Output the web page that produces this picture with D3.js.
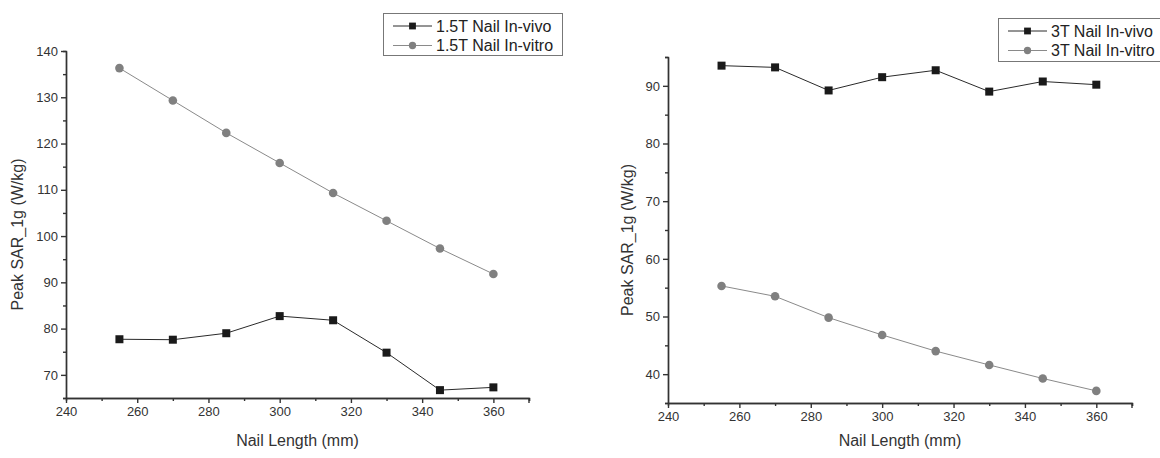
<!DOCTYPE html>
<html lang="en">
  <head>
    <meta charset="utf-8" />
    <title>Peak SAR vs Nail Length</title>
    <style>
      body {
        margin: 0;
        background: #fff;
        font-family: "Liberation Sans", Arial, sans-serif;
      }
      svg {
        display: block;
      }
      .axis path,
      .axis line {
        stroke: #333;
        stroke-width: 1.4px;
      }
      .axis text {
        fill: #333;
        font-size: 13px;
      }
      .title {
        fill: #333;
        font-size: 16px;
      }
      .legend text {
        fill: #222;
        font-size: 16px;
      }
    </style>
  </head>
  <body>
    <svg width="1160" height="458"></svg>

    <script src="https://d3js.org/d3.v7.min.js"></script>
    <script>
      // nail lengths (mm) shared by both panels
      const nailLength = [255, 270, 285, 300, 315, 330, 345, 360];

      // 1.5T
      const vivo15 = [77.7, 77.6, 79.0, 82.7, 81.8, 74.8, 66.7, 67.3];
      const vitro15 = [136.3, 129.3, 122.3, 115.8, 109.3, 103.3, 97.3, 91.8];

      // 3T
      const vivo3 = [93.5, 93.2, 89.2, 91.5, 92.7, 89.0, 90.75, 90.2];
      const vitro3 = [55.3, 53.5, 49.8, 46.8, 44.0, 41.6, 39.25, 37.1];

      const xTicks = [240, 260, 280, 300, 320, 340, 360];
      const yTicks15 = [70, 80, 90, 100, 110, 120, 130, 140];
      const yTicks3 = [40, 50, 60, 70, 80, 90];

      const seriesNames15 = ["1.5T Nail In-vivo", "1.5T Nail In-vitro"];
      const seriesNames3 = ["3T Nail In-vivo", "3T Nail In-vitro"];

      const svg = d3.select("svg");

      const panels = [
        {
          left: 66, right: 529, top: 51, bottom: 398,
          yDomain: [65, 140], yTicks: yTicks15,
          vivo: vivo15, vitro: vitro15, names: seriesNames15,
          yTitleX: 17, legend: { x: 383, y: 13, w: 179, h: 42 },
        },
        {
          left: 668, right: 1132, top: 57, bottom: 403,
          yDomain: [35, 95], yTicks: yTicks3,
          vivo: vivo3, vitro: vitro3, names: seriesNames3,
          yTitleX: 627, legend: { x: 998, y: 18, w: 175, h: 43 },
        },
      ];

      const styles = [
        { line: "#2a2a2a", fill: "#1a1a1a", shape: "square" },
        { line: "#8a8a8a", fill: "#808080", shape: "circle" },
      ];

      panels.forEach(drawPanel);

      function drawPanel(p) {
        const g = svg.append("g");

        const x = d3.scaleLinear().domain([240, 370]).range([p.left, p.right]);
        const y = d3.scaleLinear().domain(p.yDomain).range([p.bottom, p.top]);

        // minor ticks first, majors on top
        const xMinor = d3.range(250, 371, 20);
        const yMinor = p.yTicks.map((t) => t - 5).filter((t) => t >= p.yDomain[0]);
        if (p.yTicks[p.yTicks.length - 1] + 5 <= p.yDomain[1]) yMinor.push(p.yTicks[p.yTicks.length - 1] + 5);

        g.append("g")
          .attr("class", "axis")
          .attr("transform", `translate(0,${p.bottom})`)
          .call(d3.axisBottom(x).tickValues(xMinor).tickSize(3).tickFormat(""));
        g.append("g")
          .attr("class", "axis")
          .attr("transform", `translate(${p.left},0)`)
          .call(d3.axisLeft(y).tickValues(yMinor).tickSize(3).tickFormat(""));

        g.append("g")
          .attr("class", "axis")
          .attr("transform", `translate(0,${p.bottom})`)
          .call(d3.axisBottom(x).tickValues(xTicks).tickSize(5).tickSizeOuter(0).tickPadding(4));
        g.append("g")
          .attr("class", "axis")
          .attr("transform", `translate(${p.left},0)`)
          .call(d3.axisLeft(y).tickValues(p.yTicks).tickSize(5).tickSizeOuter(0).tickPadding(3));

        // end tick at x = 370
        g.append("line")
          .attr("x1", x(370)).attr("x2", x(370))
          .attr("y1", p.bottom).attr("y2", p.bottom + 5)
          .attr("stroke", "#333").attr("stroke-width", 1.4);

        // axis titles
        g.append("text")
          .attr("class", "title")
          .attr("x", (p.left + p.right) / 2)
          .attr("y", 446)
          .attr("text-anchor", "middle")
          .text("Nail Length (mm)");
        g.append("text")
          .attr("class", "title")
          .attr("transform", `translate(${p.yTitleX + 6},${(p.top + p.bottom) / 2 + 10}) rotate(-90)`)
          .attr("text-anchor", "middle")
          .text("Peak SAR_1g (W/kg)");

        const line = d3.line().x((d) => x(d[0])).y((d) => y(d[1]));

        [p.vivo, p.vitro].forEach((vals, i) => {
          const st = styles[i];
          const pts = nailLength.map((n, k) => [n, vals[k]]);
          g.append("path")
            .datum(pts)
            .attr("fill", "none")
            .attr("stroke", st.line)
            .attr("stroke-width", 1)
            .attr("d", line);
          drawMarkers(g, pts.map((d) => [x(d[0]), y(d[1])]), st);
        });

        // legend
        const L = p.legend;
        const lg = g.append("g").attr("class", "legend");
        lg.append("rect")
          .attr("x", L.x + 0.5).attr("y", L.y + 0.5)
          .attr("width", L.w).attr("height", L.h)
          .attr("fill", "#fff")
          .attr("stroke", "#777");
        p.names.forEach((name, i) => {
          const st = styles[i];
          const cy = L.y + 13 + i * 19.5;
          lg.append("line")
            .attr("x1", L.x + 10).attr("x2", L.x + 49)
            .attr("y1", cy).attr("y2", cy)
            .attr("stroke", st.line).attr("stroke-width", 1);
          drawMarkers(lg, [[L.x + 29.5, cy]], st, 0.85);
          lg.append("text")
            .attr("x", L.x + 53)
            .attr("y", cy)
            .attr("dy", "0.36em")
            .text(name);
        });
      }

      function drawMarkers(sel, pts, st, k = 1) {
        if (st.shape === "square") {
          const s = 8 * k;
          sel.selectAll(null)
            .data(pts)
            .join("rect")
            .attr("x", (d) => d[0] - s / 2)
            .attr("y", (d) => d[1] - s / 2)
            .attr("width", s)
            .attr("height", s)
            .attr("fill", st.fill);
        } else {
          sel.selectAll(null)
            .data(pts)
            .join("circle")
            .attr("cx", (d) => d[0])
            .attr("cy", (d) => d[1])
            .attr("r", 4.3 * k)
            .attr("fill", st.fill);
        }
      }
    </script>
  </body>
</html>
